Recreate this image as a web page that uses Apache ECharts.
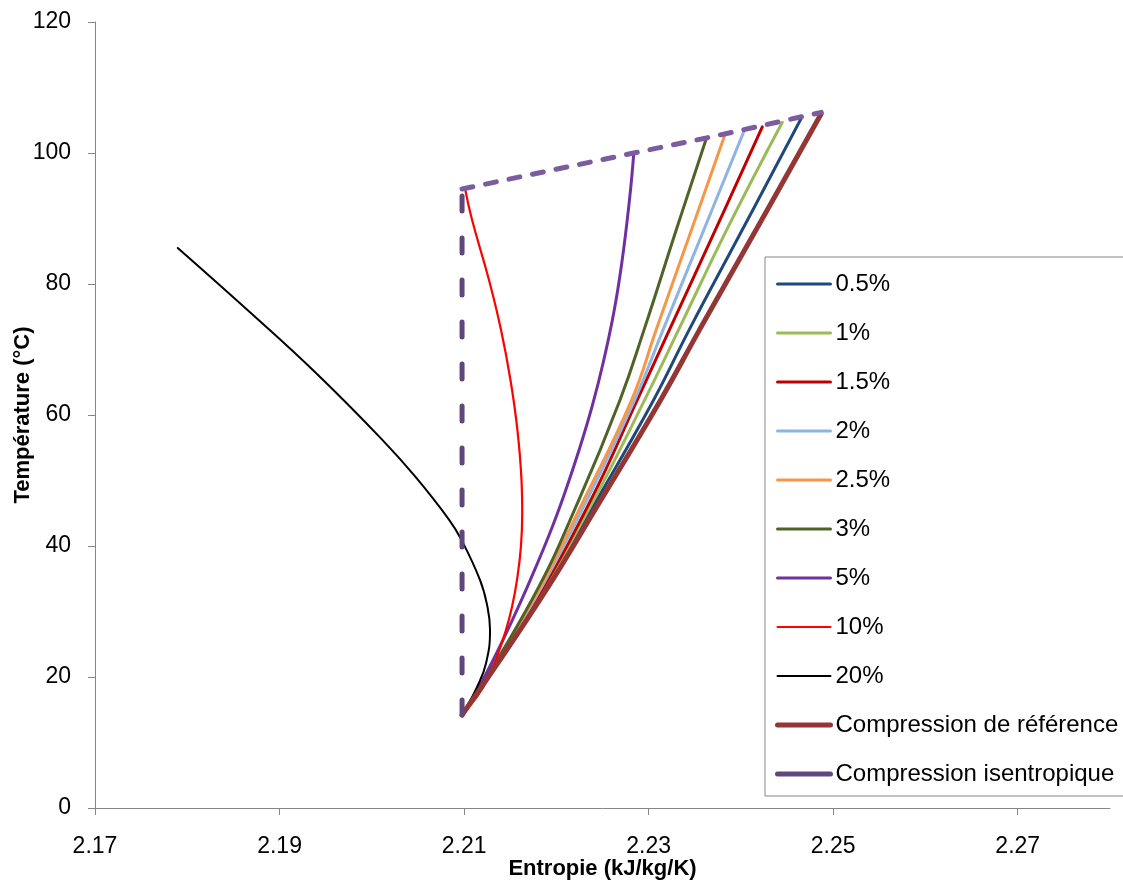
<!DOCTYPE html>
<html>
<head>
<meta charset="utf-8">
<script src="https://cdn.jsdelivr.net/npm/echarts@6/dist/echarts.min.js"></script>
<style>
html,body{margin:0;padding:0;background:#fff;}
#chart{width:1123px;height:881px;}
</style>
</head>
<body>
<div id="chart"></div>
<script>
// X tick labels
var xTicks = [2.17, 2.19, 2.21, 2.23, 2.25, 2.27];

// Series data: [entropy kJ/kg/K, temperature °C]
var s05 = [[2.20978,14.2],[2.21805,31.8],[2.22438,47.0],[2.23054,62.3],[2.23439,73.0],[2.24024,88.5],[2.24654,105.3]];
var s1  = [[2.20978,14.2],[2.21789,31.8],[2.22405,47.0],[2.22957,62.3],[2.23324,73.0],[2.23854,88.5],[2.24449,104.7]];
var s15 = [[2.20978,14.2],[2.21778,31.8],[2.22373,47.0],[2.22877,62.3],[2.23225,73.0],[2.23731,88.5],[2.24232,104.0]];
var s2  = [[2.20978,14.2],[2.21762,31.8],[2.22330,47.0],[2.22849,62.3],[2.23156,73.0],[2.23605,88.5],[2.24038,103.5]];
var s25 = [[2.20978,14.2],[2.21751,31.8],[2.22297,47.0],[2.22816,62.3],[2.23082,73.0],[2.23470,88.5],[2.23832,103.0]];
var s3  = [[2.20978,14.2],[2.21735,31.8],[2.22243,47.0],[2.22690,62.3],[2.22950,73.0],[2.23305,88.5],[2.23627,102.3]];
var s5  = [[2.20978,14.2],[2.21162,18.5],[2.21333,23.1],[2.21523,28.7],[2.21717,34.8],[2.21933,42.1],[2.22091,48.1],[2.22254,55.0],[2.22391,61.5],[2.22506,67.9],[2.22622,75.6],[2.22709,83.2],[2.22792,92.8],[2.22838,99.8]];
var s10 = [[2.20978,14.2],[2.21141,17.0],[2.21249,19.5],[2.21357,23.1],[2.21454,27.2],[2.21519,30.7],[2.21573,34.8],[2.21616,39.9],[2.21630,45.0],[2.21622,50.1],[2.21578,57.7],[2.21503,65.3],[2.21400,73.0],[2.21270,80.6],[2.21086,89.8],[2.21011,94.5]];
var s20 = [[2.20978,14.2],[2.21141,18.5],[2.21238,22.1],[2.21281,27.2],[2.21249,31.0],[2.21173,34.8],[2.20973,40.9],[2.20838,44.0],[2.20476,50.5],[2.20114,56.2],[2.19395,66.4],[2.18686,75.6],[2.17897,85.5]];
var sRef = [[2.20978,14.2],[2.21822,31.8],[2.22481,47.0],[2.23130,62.3],[2.23551,73.0],[2.24174,88.5],[2.24870,106.0]];
var sIsoV = [[2.20978,14.2],[2.20978,94.5]];
var sIsoTop = [[2.20978,94.5],[2.22838,100.0],[2.23627,102.3],[2.24870,106.2]];

var names = ['0.5%','1%','1.5%','2%','2.5%','3%','5%','10%','20%','Compression de référence','Compression isentropique'];
var colors = ['#1F497D','#9BBB59','#C00000','#8EB4E3','#F79646','#4F6228','#7030A0','#FF0000','#000000','#943634','#5F497A'];
var widths = [3,3,3,3,3,3,3,2.2,2,5,5];
var datas = [s05,s1,s15,s2,s25,s3,s5,s10,s20,sRef,sIsoV];

var series = [];
for (var i = 0; i < names.length; i++) {
  var iso = (i === names.length - 1);
  series.push({
    name: names[i], type: 'line', data: datas[i],
    showSymbol: false, symbol: 'none', smooth: iso ? false : 0.45,
    color: colors[i],
    lineStyle: {color: colors[i], width: widths[i], type: iso ? [15,27] : 'solid', cap: 'round'},
    emphasis: {disabled: true}, animation: false
  });
}
series.push({
  name: 'Compression isentropique', type: 'line', data: sIsoTop,
  showSymbol: false, symbol: 'none', smooth: false,
  color: '#7B5C9E',
  lineStyle: {color: '#7B5C9E', width: 5, type: [11,13], cap: 'round'},
  emphasis: {disabled: true}, animation: false
});

var chart = echarts.init(document.getElementById('chart'), null, {renderer: 'canvas'});
var font = '"Liberation Sans", Arial, sans-serif';
chart.setOption({
  animation: false,
  backgroundColor: '#ffffff',
  grid: {left: 95, right: 13, top: 22, bottom: 73, containLabel: false, outerBoundsMode: 'none'},
  xAxis: {
    type: 'value', min: 2.17, max: 2.28,
    name: 'Entropie (kJ/kg/K)', nameLocation: 'middle', nameGap: 50, nameMoveOverlap: false,
    nameTextStyle: {fontFamily: font, fontSize: 22, fontWeight: 'bold', color: '#000'},
    axisLine: {show: true, onZero: false, lineStyle: {color: '#868686', width: 1}},
    axisTick: {show: true, length: 7, customValues: xTicks, lineStyle: {color: '#868686'}},
    axisLabel: {customValues: xTicks, margin: 27, fontFamily: font, fontSize: 23, color: '#000',
      formatter: function(v){ return v.toFixed(2); }},
    splitLine: {show: false}
  },
  yAxis: {
    type: 'value', min: 0, max: 120, interval: 20,
    name: 'Température (°C)', nameLocation: 'middle', nameGap: 61, nameRotate: 90, nameMoveOverlap: false,
    nameTextStyle: {fontFamily: font, fontSize: 22, fontWeight: 'bold', color: '#000'},
    axisLine: {show: true, onZero: false, lineStyle: {color: '#868686', width: 1}},
    axisTick: {show: true, length: 7, lineStyle: {color: '#868686'}},
    axisLabel: {margin: 24, fontFamily: font, fontSize: 23, color: '#000'},
    splitLine: {show: false}
  },
  legend: {
    orient: 'vertical', left: 765, top: 257,
    padding: [15, 25, 10, 10], itemGap: 25, itemWidth: 53, itemHeight: 14,
    borderColor: '#868686', borderWidth: 1, backgroundColor: '#fff',
    textStyle: {fontFamily: font, fontSize: 24, color: '#000', lineHeight: 24},
    data: names.map(function(n, i){
      return {name: n, itemStyle: {opacity: 0},
        lineStyle: {color: colors[i], width: widths[i], type: 'solid', opacity: 1}};
    }),
    selectedMode: false
  },
  series: series
});
</script>
</body>
</html>
